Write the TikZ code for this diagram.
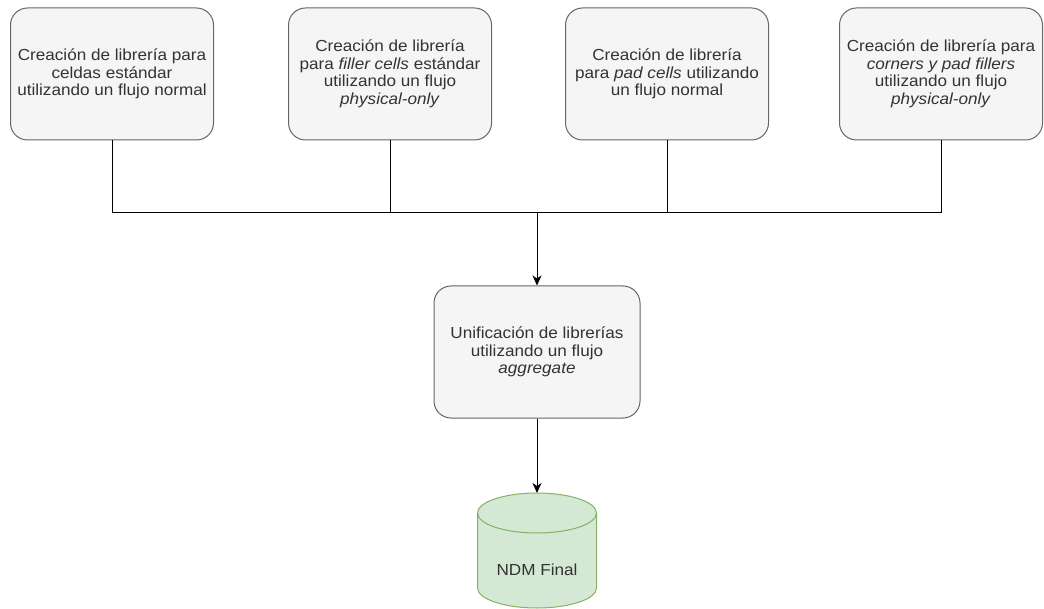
\documentclass[tikz,border=0pt]{standalone}
\usepackage{fontspec}
\setmainfont{Liberation Sans}[FakeStretch=1.07]
\usetikzlibrary{arrows.meta}
\definecolor{boxfill}{HTML}{F5F5F5}
\definecolor{boxline}{HTML}{666666}
\definecolor{txt}{HTML}{333333}
\definecolor{dbfill}{HTML}{D5E8D4}
\definecolor{dbline}{HTML}{82B366}
\tikzset{
  stepbox/.style={draw=boxline, fill=boxfill, rounded corners=17pt, line width=1pt,
    minimum width=203pt, minimum height=132pt, inner sep=0pt, align=center,
    text=txt, font=\fontsize{16}{17.5}\selectfont},
  wire/.style={draw=black, line width=1pt},
  arr/.style={wire, -{Stealth[length=10pt,width=9pt,inset=3pt]}},
  lbl/.style={text=txt, font=\fontsize{16}{17.5}\selectfont, inner sep=0pt}
}
\begin{document}
\begin{tikzpicture}[x=1pt,y=1pt]
\useasboundingbox (0,0) rectangle (1044,-609);
\node[stepbox] (b1) at (112,-74) {Creación de librería para\\celdas estándar\\utilizando un flujo normal};
\node[stepbox] (b2) at (390,-74) {Creación de librería\\para \textit{filler cells} estándar\\utilizando un flujo\\\textit{physical-only}};
\node[stepbox] (b3) at (667,-74) {Creación de librería\\para \textit{pad cells} utilizando\\un flujo normal};
\node[stepbox] (b4) at (941,-74) {Creación de librería para\\\textit{corners y pad fillers}\\utilizando un flujo\\\textit{physical-only}};
\node[stepbox, minimum width=206pt] (mid) at (537,-352) {Unificación de librerías\\utilizando un flujo\\\textit{aggregate}};
\coordinate (bus) at (537,-213);
\coordinate (dbtop) at (537,-493);
% connectors
\draw[wire] (b1.south) |- (bus);
\draw[wire] (b2.south) |- (bus);
\draw[wire] (b3.south) |- (bus);
\draw[wire] (b4.south) |- (bus);
\draw[arr] (bus) -- (mid.north);
\draw[arr] (mid.south) -- (dbtop);
% cylinder
\draw[fill=dbfill, draw=dbline, line width=1pt]
  (477.5,-513) -- (477.5,-588) arc (180:360:59.5 and 20) -- (596.5,-513) arc (0:180:59.5 and 20) -- cycle;
\draw[draw=dbline, line width=1pt] (477.5,-513) arc (180:360:59.5 and 20);
\node[lbl] (dbl) at (537,-569.5) {NDM Final};
\end{tikzpicture}
\end{document}
